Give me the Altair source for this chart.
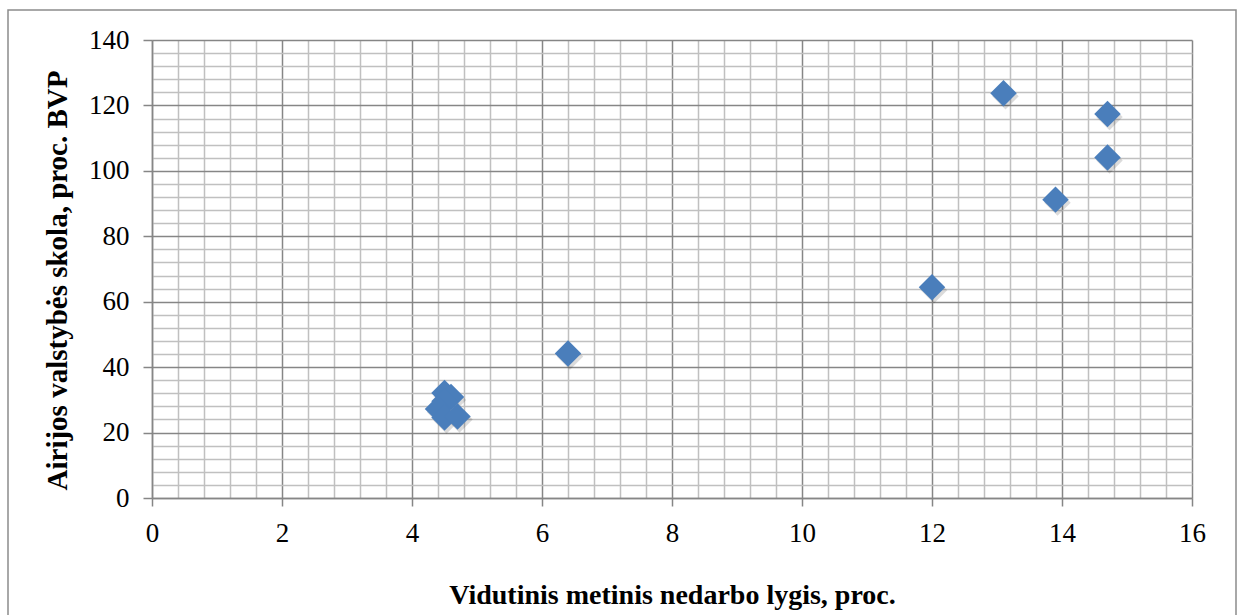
import altair as alt
import pandas as pd

# Data: unemployment rate (%) vs. Irish government debt (% of GDP)
unemployment = [4.5, 4.6, 4.5, 4.4, 4.5, 4.7, 6.4, 12.0, 13.9, 14.7, 14.7, 13.1]
debt = [32.1, 30.9, 29.6, 27.2, 24.6, 24.9, 44.2, 64.4, 91.2, 104.1, 117.4, 123.7]

x_ticks = [round(i * 0.4, 1) for i in range(41)]
y_ticks = [i * 4 for i in range(36)]

df = pd.DataFrame({"x": unemployment, "y": debt})

FONT = "Liberation Serif"
MAJOR = "#868686"
MINOR = "#C0C0C0"

x_major_test = "abs(datum.value / 2 - round(datum.value / 2)) < 0.001"
y_major_test = "abs(datum.value / 20 - round(datum.value / 20)) < 0.001"

x_enc = alt.X(
    "x:Q",
    scale=alt.Scale(domain=[0, 16], nice=False, zero=False),
    axis=alt.Axis(
        values=x_ticks,
        title="Vidutinis metinis nedarbo lygis, proc.",
        titleFont=FONT, titleFontSize=28, titleFontWeight="bold", titleColor="black",
        titleX=520, titleY=105, titleBaseline="alphabetic", titleAnchor="middle",
        labelExpr=f"({x_major_test}) ? format(round(datum.value), 'd') : ''",
        labelFont=FONT, labelFontSize=27, labelColor="black",
        labelFlush=False, labelOverlap=False, labelPadding=14,
        grid=True,
        gridColor=alt.condition(x_major_test, alt.value(MAJOR), alt.value(MINOR)),
        gridWidth=1.5,
        tickColor=alt.condition(x_major_test, alt.value(MAJOR), alt.value("transparent")),
        tickSize=8, tickWidth=1.5,
        domainColor=MAJOR, domainWidth=1.5,
    ),
)
y_enc = alt.Y(
    "y:Q",
    scale=alt.Scale(domain=[0, 140], nice=False, zero=False),
    axis=alt.Axis(
        values=y_ticks,
        title="Airijos valstybės skola, proc. BVP",
        titleFont=FONT, titleFontSize=29, titleFontWeight="bold", titleColor="black",
        titlePadding=16, titleY=240,
        labelExpr=f"({y_major_test}) ? format(round(datum.value), 'd') : ''",
        labelFont=FONT, labelFontSize=27, labelColor="black",
        labelFlush=False, labelOverlap=False, labelPadding=14,
        grid=True,
        gridColor=alt.condition(y_major_test, alt.value(MAJOR), alt.value(MINOR)),
        gridWidth=1.5,
        tickColor=alt.condition(y_major_test, alt.value(MAJOR), alt.value("transparent")),
        tickSize=9, tickWidth=1.5,
        domainColor=MAJOR, domainWidth=1.5,
    ),
)

border = alt.Chart(pd.DataFrame({"a": [0]})).mark_rect(
    fill=None, stroke="#8C8C8C", strokeWidth=1.5
).encode(
    x=alt.value(-144), x2=alt.value(1084), y=alt.value(-30), y2=alt.value(590)
)

shadow = alt.Chart(df).mark_point(
    shape="diamond", filled=True, size=700, color="#000000", opacity=0.14,
    xOffset=2, yOffset=3
).encode(x=x_enc, y=y_enc)

points = alt.Chart(df).mark_point(
    shape="diamond", filled=True, size=700, color="#4A7EBB", opacity=1
).encode(x=x_enc, y=y_enc)

chart = alt.layer(border, shadow, points).properties(
    width=1040, height=458,
    autosize=alt.AutoSizeParams(type="none"),
    padding={"left": 152, "top": 40, "right": 49, "bottom": 117},
    background="white",
).configure_view(stroke=None)

chart.save("out.html", embed_options={"renderer": "svg", "actions": False})
